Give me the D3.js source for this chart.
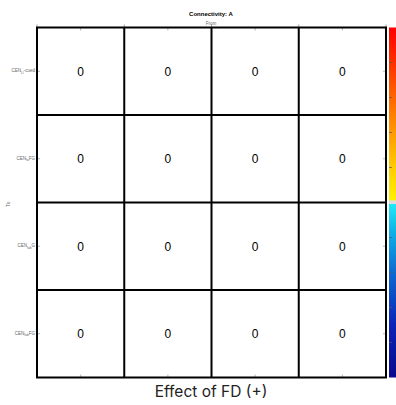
<!DOCTYPE html>
<html><head><meta charset="utf-8">
<script src="https://cdn.jsdelivr.net/npm/d3@7"></script>
<style>body{margin:0;background:#fff}svg{display:block}</style>
</head><body>
<svg id="c" width="396" height="405"></svg>
<script>
const rowLabels = ["CEN_LI-cued", "CEN_fa-FG", "CEN_fab-G", "CEN_fab-FG"];
const rowMain = ["CEN", "CEN", "CEN", "CEN"];
const rowSub = ["LI", "fa", "fab", "fab"];
const rowTail = ["-cued", "FG", "G", "FG"];
const colLabels = ["C1", "C2", "C3", "C4"];
const values = [
  [0, 0, 0, 0],
  [0, 0, 0, 0],
  [0, 0, 0, 0],
  [0, 0, 0, 0]
];
const cbDomain = [-1, 1];
const cbTicks = [-0.8, -0.6, -0.4, -0.2, 0.2, 0.4, 0.6, 0.8];

const svg = d3.select("#c");
const L = 37, R = 386, T = 27.5, B = 377.5;
const x = d3.scaleBand().domain(colLabels).range([L, R]);
const y = d3.scaleBand().domain(rowLabels).range([T, B]);

const cells = [];
values.forEach((r, i) => r.forEach((v, j) => cells.push({ r: rowLabels[i], c: colLabels[j], v })));
svg.append("g").selectAll("rect").data(cells).join("rect")
  .attr("x", d => x(d.c)).attr("y", d => y(d.r))
  .attr("width", x.bandwidth()).attr("height", y.bandwidth())
  .attr("fill", "#fff");

const tg = svg.append("g").attr("stroke", "#999").attr("stroke-width", 0.7);
colLabels.forEach(c => {
  const cx = x(c) + x.bandwidth() / 2;
  tg.append("line").attr("x1", cx).attr("x2", cx).attr("y1", T).attr("y2", T + 3);
  tg.append("line").attr("x1", cx).attr("x2", cx).attr("y1", B).attr("y2", B - 3);
});
rowLabels.forEach(r => {
  const cy = y(r) + y.bandwidth() / 2;
  tg.append("line").attr("x1", R).attr("x2", R - 3).attr("y1", cy).attr("y2", cy);
  tg.append("line").attr("x1", L).attr("x2", L + 3).attr("y1", cy).attr("y2", cy);
});
const bx = colLabels.map(c => x(c)).concat([R]);
bx.forEach(v => tg.append("line").attr("x1", v).attr("x2", v).attr("y1", T).attr("y2", T - 3).attr("stroke", "#777"));

const gg = svg.append("g").attr("stroke", "#000").attr("stroke-width", 2).attr("fill", "none");
bx.forEach(v => gg.append("line").attr("x1", v).attr("x2", v).attr("y1", T).attr("y2", B));
const by = rowLabels.map(r => y(r)).concat([B]);
by.forEach(v => gg.append("line").attr("x1", L - 1).attr("x2", R + 1).attr("y1", v).attr("y2", v));

svg.append("g").selectAll("text").data(cells).join("text")
  .attr("x", d => x(d.c) + x.bandwidth() / 2)
  .attr("y", d => y(d.r) + y.bandwidth() / 2 + 4.5)
  .attr("text-anchor", "middle")
  .attr("font-family", "Liberation Sans, Arial, sans-serif")
  .attr("font-size", 12).attr("fill", "#000")
  .text(d => d.v);

const rl = svg.append("g").attr("font-family", "Liberation Sans, Arial, sans-serif").attr("fill", "#666");
rowLabels.forEach((r, i) => {
  const t = rl.append("text").attr("x", 35).attr("y", y(r) + y.bandwidth() / 2 + 1)
    .attr("text-anchor", "end").attr("font-size", 4.5);
  t.append("tspan").text(rowMain[i]);
  t.append("tspan").attr("font-size", 3.2).attr("dy", 1.5).text(rowSub[i]);
  t.append("tspan").attr("dy", -1.5).text(rowTail[i]);
});
svg.append("text").attr("transform", "translate(10,204) rotate(-90)")
  .attr("text-anchor", "middle").attr("font-family", "Liberation Sans, Arial, sans-serif")
  .attr("font-size", 5).attr("fill", "#666").text("To");

svg.append("text").attr("x", 211).attr("y", 16).attr("text-anchor", "middle")
  .attr("font-family", "Liberation Sans, Arial, sans-serif").attr("font-weight", "bold")
  .attr("font-size", 6).attr("fill", "#000").text("Connectivity: A");
svg.append("text").attr("x", 211).attr("y", 24.5).attr("text-anchor", "middle")
  .attr("font-family", "Liberation Sans, Arial, sans-serif")
  .attr("font-size", 4.5).attr("fill", "#666").text("From");
svg.append("text").attr("x", 211).attr("y", 397).attr("text-anchor", "middle")
  .attr("font-family", "Inter, Open Sans, sans-serif")
  .attr("font-size", 15.5).attr("fill", "#222").text("Effect of FD (+)");

const cbX = 389, cbW = 7;
const cy = d3.scaleLinear().domain(cbDomain).range([B, T]);
const defs = svg.append("defs");
const grad = defs.append("linearGradient").attr("id", "cbg").attr("x1", 0).attr("x2", 0).attr("y1", 1).attr("y2", 0);
const stops = [
  [0, "#0a0a8c"], [0.15, "#0b23b8"], [0.3, "#0d6ad0"], [0.42, "#0fb4e8"], [0.495, "#20e8f4"],
  [0.497, "#dcdcdc"], [0.505, "#dcdcdc"],
  [0.507, "#fff000"], [0.6, "#ffcc00"], [0.75, "#ff8000"], [0.9, "#ff3000"], [1, "#ff0000"]
];
stops.forEach(s => grad.append("stop").attr("offset", s[0]).attr("stop-color", s[1]));
svg.append("rect").attr("x", cbX).attr("y", cy(cbDomain[1])).attr("width", cbW)
  .attr("height", cy(cbDomain[0]) - cy(cbDomain[1])).attr("fill", "url(#cbg)");
svg.append("g").selectAll("line").data(cbTicks).join("line")
  .attr("x1", cbX).attr("x2", cbX + 3).attr("y1", d => cy(d)).attr("y2", d => cy(d))
  .attr("stroke", "#555").attr("stroke-width", 0.7);
</script>
</body></html>
